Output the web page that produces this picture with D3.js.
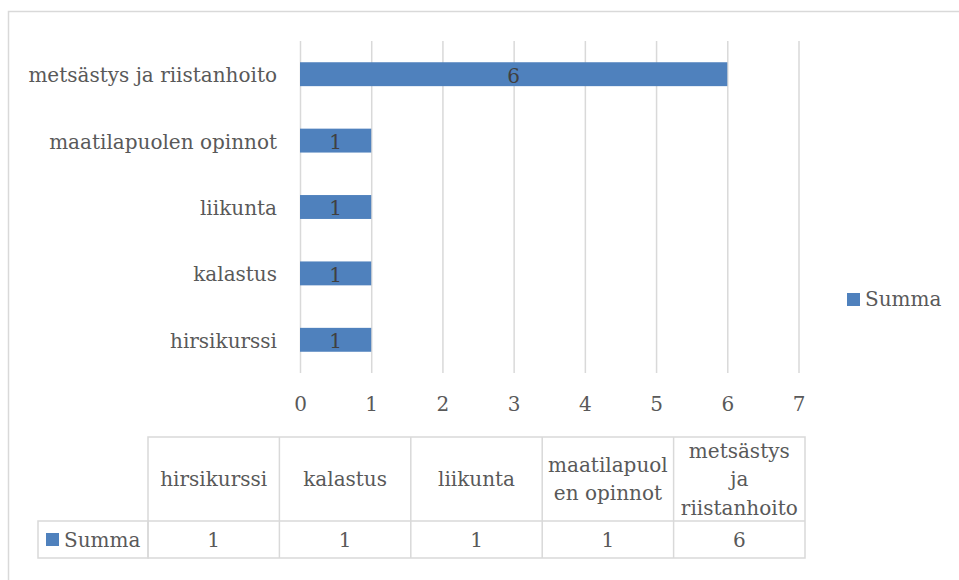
<!DOCTYPE html>
<html>
<head>
<meta charset="utf-8">
<script src="https://cdnjs.cloudflare.com/ajax/libs/d3/7.8.5/d3.min.js"></script>
<style>
  body { margin: 0; background: #fff; }
  svg { display: block; }
  text { font-family: "DejaVu Serif", serif; fill: #595959; }
</style>
</head>
<body>
<svg id="chart" width="959" height="580"></svg>
<script>
// data
const categories = ["hirsikurssi", "kalastus", "liikunta", "maatilapuolen opinnot", "metsästys ja riistanhoito"];
const values = [1, 1, 1, 1, 6];
const seriesName = "Summa";
const xTicks = [0, 1, 2, 3, 4, 5, 6, 7];
// table header as it wraps in the cells
const headerLines = [["hirsikurssi"], ["kalastus"], ["liikunta"], ["maatilapuol", "en opinnot"], ["metsästys", "ja", "riistanhoito"]];

const barColor = "#4F81BD";
const gridColor = "#D9D9D9";
const fs = 20;

const svg = d3.select("#chart");

// outer chart frame (bottom/right run off the page)
svg.append("rect")
  .attr("x", 8.5).attr("y", 11.5)
  .attr("width", 970).attr("height", 600)
  .attr("fill", "none").attr("stroke", gridColor).attr("stroke-width", 1.5);

const plot = { left: 300, right: 798.5, top: 41, bottom: 373 };

const x = d3.scaleLinear().domain([0, 7]).range([plot.left, plot.right]);
const y = d3.scaleBand()
  .domain(categories.slice().reverse())
  .range([plot.top, plot.bottom])
  .paddingInner(0.64)
  .paddingOuter(0.32);

// x axis with gridlines
const xAxis = svg.append("g")
  .attr("transform", "translate(0," + plot.bottom + ")")
  .call(d3.axisBottom(x).tickValues(xTicks).tickFormat(d3.format("d"))
    .tickSize(-(plot.bottom - plot.top)).tickPadding(24));
xAxis.select(".domain").remove();
xAxis.selectAll("line").attr("stroke", gridColor).attr("stroke-width", 1.5);
xAxis.selectAll("text").attr("font-size", fs).attr("font-family", null).attr("fill", "#595959");

// category labels
const yAxis = svg.append("g")
  .attr("transform", "translate(" + plot.left + ",0)")
  .call(d3.axisLeft(y).tickSize(0).tickPadding(23));
yAxis.select(".domain").remove();
yAxis.selectAll("text").attr("font-size", fs).attr("font-family", null).attr("fill", "#595959").attr("dy", "0.4em");

// bars
svg.append("g").selectAll("rect")
  .data(categories)
  .join("rect")
    .attr("x", x(0))
    .attr("y", d => y(d))
    .attr("width", (d, i) => x(values[i]) - x(0))
    .attr("height", y.bandwidth())
    .attr("fill", barColor);

// value labels inside bars
svg.append("g").selectAll("text")
  .data(categories)
  .join("text")
    .attr("x", (d, i) => (x(0) + x(values[i])) / 2)
    .attr("y", d => y(d) + y.bandwidth() / 2)
    .attr("dy", "0.42em")
    .attr("text-anchor", "middle")
    .attr("font-size", fs)
    .style("fill", "#404040")
    .text((d, i) => values[i]);

// legend on the right
const legend = svg.append("g").attr("transform", "translate(847,293)");
legend.append("rect").attr("width", 13).attr("height", 13).attr("fill", barColor);
legend.append("text").attr("x", 18).attr("y", 13).attr("font-size", fs).text(seriesName);

// data table
const tbl = { left: 38, colLeft: 148, right: 805, top: 437, mid: 521, bottom: 558 };
const col = d3.scaleBand().domain(categories).range([tbl.colLeft, tbl.right]);

const grid = svg.append("g").attr("stroke", gridColor).attr("stroke-width", 1.5).attr("fill", "none");
grid.append("rect").attr("x", tbl.colLeft).attr("y", tbl.top).attr("width", tbl.right - tbl.colLeft).attr("height", tbl.bottom - tbl.top);
grid.append("rect").attr("x", tbl.left).attr("y", tbl.mid).attr("width", tbl.colLeft - tbl.left).attr("height", tbl.bottom - tbl.mid);
grid.append("line").attr("x1", tbl.colLeft).attr("x2", tbl.right).attr("y1", tbl.mid).attr("y2", tbl.mid);
grid.selectAll("line.c")
  .data(categories.slice(1))
  .join("line").attr("class", "c")
    .attr("x1", d => col(d)).attr("x2", d => col(d))
    .attr("y1", tbl.top).attr("y2", tbl.bottom);

const lineH = 28.5;
const heads = svg.append("g").selectAll("text")
  .data(categories)
  .join("text")
    .attr("text-anchor", "middle")
    .attr("font-size", fs)
    .attr("x", d => col(d) + col.bandwidth() / 2)
    .attr("y", (d, i) => (tbl.top + tbl.mid) / 2 + 7 - (headerLines[i].length - 1) * lineH / 2);
heads.selectAll("tspan")
  .data((d, i) => headerLines[i])
  .join("tspan")
    .attr("x", function() { return this.parentNode.getAttribute("x"); })
    .attr("dy", (d, j) => j === 0 ? 0 : lineH)
    .text(d => d);

svg.append("g").selectAll("text")
  .data(categories)
  .join("text")
    .attr("text-anchor", "middle")
    .attr("font-size", fs)
    .attr("x", d => col(d) + col.bandwidth() / 2)
    .attr("y", tbl.bottom - 11)
    .text((d, i) => values[i]);

svg.append("rect").attr("x", 46).attr("y", 533).attr("width", 13).attr("height", 13).attr("fill", barColor);
svg.append("text").attr("x", 64).attr("y", tbl.bottom - 11).attr("font-size", fs).text(seriesName);
</script>
</body>
</html>
